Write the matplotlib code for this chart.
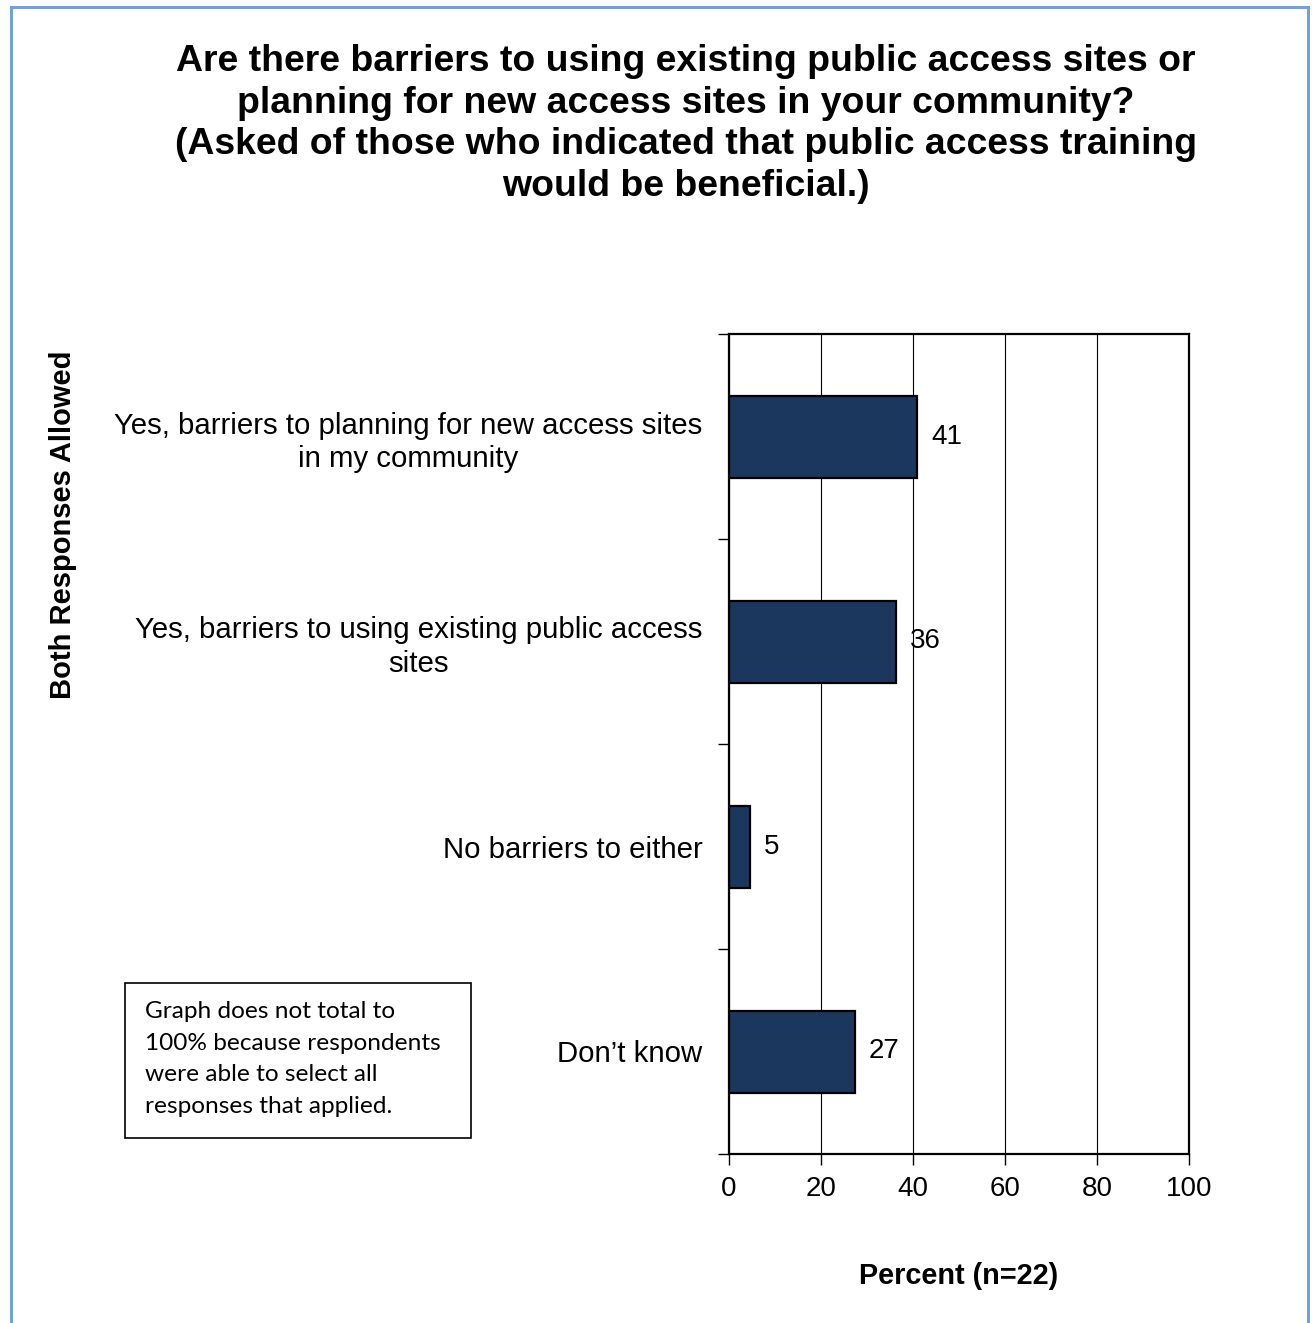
import matplotlib.pyplot as plt
from matplotlib.patches import Rectangle

# survey answers, top to bottom
categories = [
    "Yes, barriers to planning for new access sites\nin my community",
    "Yes, barriers to using existing public access\nsites",
    "No barriers to either",
    "Don\u2019t know",
]
percents = [40.9, 36.4, 4.5, 27.3]
value_labels = ["41", "36", "5", "27"]
x_ticks = [0, 20, 40, 60, 80, 100]

title = ("Are there barriers to using existing public access sites or\n"
         "planning for new access sites in your community?\n"
         "(Asked of those who indicated that public access training\n"
         "would be beneficial.)")
note = ("Graph does not total to\n100% because respondents\n"
        "were able to select all\nresponses that applied.")

plt.rcParams['font.family'] = ['Liberation Sans', 'DejaVu Sans']

W, H = 1312, 1323
fig = plt.figure(figsize=(W / 100, H / 100), dpi=100)

def fx(px):
    return px / W

def fy(py):
    return 1 - py / H

# outer light blue frame (bottom runs off the page)
fig.patches.append(Rectangle((fx(11), fy(1340)), fx(1308) - fx(11), fy(7) - fy(1340),
                             transform=fig.transFigure, fill=False,
                             edgecolor="#6fa0e0", linewidth=2.2))

fig.text(fx(686), fy(124), title, ha="center", va="center", fontsize=26.9,
         fontweight="bold", linespacing=1.25)

ax = fig.add_axes([fx(729), fy(1154), fx(1189) - fx(729), fy(334) - fy(1154)])
ypos = list(range(len(categories)))
ax.barh(ypos, percents, height=0.4, color="#1b375e", edgecolor="black", linewidth=1.6)
ax.set_xlim(0, 100)
ax.set_ylim(len(categories) - 0.5, -0.5)

for y, p, lab in zip(ypos, percents, value_labels):
    ax.text(p + 3.0, y, lab, ha="left", va="center", fontsize=20)

ax.set_xticks(x_ticks)
ax.set_xticklabels([str(t) for t in x_ticks], fontsize=20)
ax.xaxis.grid(True, color="black", linewidth=0.8)
ax.set_axisbelow(True)

ax.set_yticks([i - 0.5 for i in range(len(categories) + 1)])
ax.set_yticklabels([])
ax.set_yticks(ypos, minor=True)
ax.set_yticklabels(categories, minor=True, fontsize=21.2)
for lab in ax.get_yticklabels(minor=True):
    lab.set_multialignment("center")
    lab.set_linespacing(1.25)
ax.tick_params(axis="y", which="minor", length=0, pad=19)
ax.tick_params(axis="y", which="major", length=8, width=1, color="black")
ax.tick_params(axis="x", length=8, width=1, pad=8)

for s in ax.spines.values():
    s.set_linewidth(1.6)

fig.text(fx(959), fy(1276), "Percent (n=22)", ha="center", va="center",
         fontsize=20.8, fontweight="bold")
fig.text(fx(63), fy(525), "Both Responses Allowed", ha="center", va="center",
         rotation=90, fontsize=21, fontweight="bold")

# note box
fig.patches.append(Rectangle((fx(125), fy(1138)), fx(471) - fx(125), fy(983) - fy(1138),
                             transform=fig.transFigure, fill=False,
                             edgecolor="black", linewidth=1.2))
fig.text(fx(145), fy(1059), note, ha="left", va="center", fontsize=17.6,
         family=["Lato", "DejaVu Sans"], linespacing=1.62)

fig.savefig("out.png", dpi=100)
